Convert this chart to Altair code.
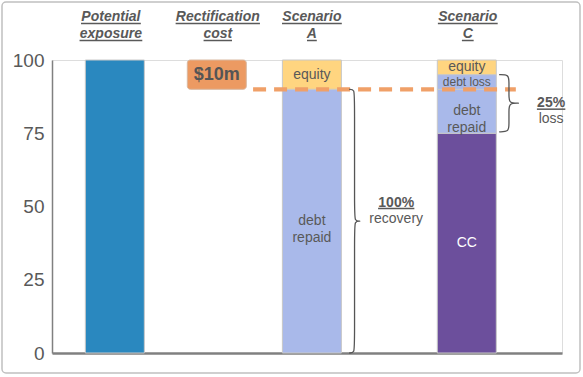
import altair as alt
import pandas as pd

# ---------------- data ----------------
categories = ["Potential exposure", "Rectification cost", "Scenario A", "Scenario C"]
header_top = ["Potential", "Rectification", "Scenario", "Scenario"]
header_bottom = ["exposure", "cost", "A", "C"]

seg_category = ["Potential exposure", "Rectification cost", "Scenario A", "Scenario A",
                "Scenario C", "Scenario C", "Scenario C", "Scenario C"]
seg_name = ["exposure", "cost", "debt repaid", "equity", "cc", "debt repaid", "debt loss", "equity"]
seg_value = [100, 10, 90, 10, 75, 15, 5, 5]
seg_label = ["", "$10m", "debt\nrepaid", "equity", "CC", "debt\nrepaid", "debt loss", "equity"]

y_ticks = [0, 25, 50, 75, 100]

ann_top = ["100%", "25%"]
ann_bottom = ["recovery", "loss"]
brace_span = [(0, 90), (75.5, 95)]   # debt ranges covered by the braces

# ---------------- layout / style ----------------
W, H = 510, 293
slot_x = [59, 163, 260, 418]
BAR_W = 59
header_dx = [-4, 1, 0, 1]
ul_w1 = [61, 86, 61, 61]
ul_w2 = [64, 29, 10, 12]
brace_geom = [(298, 303.5, 309, 3.5), (451, 461, 471, 2.5)]
ann_x = [346, 504]
ann_y_top = [50, 83.9]
ann_y_bot = [44.4, 78.4]
ann_ul_w = [37, 29]
dash_x = (200, 468)

FONT = "Liberation Sans"
TXT = "#595959"
colors = {"exposure": "#2A88BF", "cost": "#EC9A62", "equity": "#FFD580",
          "debt repaid": "#A9B9EA", "debt loss": "#A9B9EA", "cc": "#6C4F9C"}

xs = alt.Scale(domain=[0, W], nice=False, zero=False)
ys = alt.Scale(domain=[0, 100], nice=False)

# ---------------- build tables ----------------
rows = []
cum = {}
exposure_total = seg_value[0]
for c, n, v, l in zip(seg_category, seg_name, seg_value, seg_label):
    if c == "Rectification cost":
        y0 = exposure_total - v
    else:
        y0 = cum.get(c, 0)
    y1 = y0 + v
    cum[c] = y1
    rows.append(dict(cat=c, name=n, y0=y0, y1=y1, ym=(y0 + y1) / 2, label=l,
                     x=slot_x[categories.index(c)], color=colors[n],
                     tcolor="white" if n == "cc" else TXT,
                     tsize=12 if n == "debt loss" else 14))
bars = pd.DataFrame(rows)

threshold = exposure_total - seg_value[1]

base_bar = alt.Chart(bars)
bar_layer = base_bar.mark_bar(size=BAR_W, stroke="#C8C8C8", strokeWidth=1).encode(
    x=alt.X("x:Q", scale=xs, axis=alt.Axis(labels=False, ticks=False, grid=False, title=None,
                                            domainColor="#808080", domainWidth=2.5)),
    y=alt.Y("y0:Q", scale=ys, axis=alt.Axis(values=y_ticks, ticks=False, grid=False, title=None,
                                             labelFontSize=19, labelColor=TXT, labelFont=FONT,
                                             labelPadding=8, domainColor="#808080", domainWidth=1.5)),
    y2="y1:Q",
    color=alt.Color("color:N", scale=None),
).transform_filter("datum.name != 'cost'")

cost_layer = base_bar.mark_bar(size=BAR_W, stroke="#D9B8A0", strokeWidth=1, cornerRadius=3).encode(
    x=alt.X("x:Q", scale=xs), y=alt.Y("y0:Q", scale=ys), y2="y1:Q",
    color=alt.Color("color:N", scale=None),
).transform_filter("datum.name == 'cost'")

label_layer = base_bar.mark_text(font=FONT, baseline="middle", align="center",
                                 lineBreak="\n", lineHeight=17).encode(
    x=alt.X("x:Q", scale=xs), y=alt.Y("ym:Q", scale=ys),
    text="label:N",
    color=alt.Color("tcolor:N", scale=None),
    size=alt.Size("tsize:Q", scale=None),
).transform_filter("datum.label != '' && datum.name != 'cost'")

cost_label = base_bar.mark_text(font=FONT, baseline="middle", align="center",
                                fontSize=18, fontWeight="bold", color="#555555").encode(
    x=alt.X("x:Q", scale=xs), y=alt.Y("ym:Q", scale=ys), text="label:N",
).transform_filter("datum.name == 'cost'")

# dashed threshold line
dash_df = pd.DataFrame([dict(xa=dash_x[0], xb=dash_x[1], y=threshold)])
dash_layer = alt.Chart(dash_df).mark_rule(color="#F0A068", strokeWidth=4.3,
                                          strokeDash=[13, 8]).encode(
    x=alt.X("xa:Q", scale=xs), x2="xb:Q", y=alt.Y("y:Q", scale=ys))

# braces
brows = []
for b, ((lo, hi), (x0, xv, xt, r)) in enumerate(zip(brace_span, brace_geom)):
    ym = (lo + hi) / 2
    pts = [(x0, hi), (xv, hi), (xv, hi - r), (xv, ym + r), (xv, ym), (xt, ym), (xt, ym),
           (xv, ym), (xv, ym - r), (xv, lo + r), (xv, lo), (x0, lo)]
    for i, (px, py) in enumerate(pts):
        brows.append(dict(b=b, i=i, x=px, y=py))
brace_df = pd.DataFrame(brows)
brace_layer = alt.Chart(brace_df).mark_line(interpolate="basis", color="#555555",
                                            strokeWidth=1.3).encode(
    x=alt.X("x:Q", scale=xs), y=alt.Y("y:Q", scale=ys),
    detail="b:N", order="i:Q")

# annotations
ann_df = pd.DataFrame(dict(top=ann_top, bot=ann_bottom, x=ann_x, yt=ann_y_top, yb=ann_y_bot,
                           xa=[a - w / 2 for a, w in zip(ann_x, ann_ul_w)],
                           xb=[a + w / 2 for a, w in zip(ann_x, ann_ul_w)]))
ann_a = alt.Chart(ann_df).mark_text(font=FONT, fontSize=14, fontWeight="bold", color=TXT,
                                    baseline="alphabetic", align="center").encode(
    x=alt.X("x:Q", scale=xs), y=alt.Y("yt:Q", scale=ys), text="top:N")
ann_b = alt.Chart(ann_df).mark_text(font=FONT, fontSize=14, color=TXT,
                                    baseline="alphabetic", align="center").encode(
    x=alt.X("x:Q", scale=xs), y=alt.Y("yb:Q", scale=ys), text="bot:N")
ann_ul = alt.Chart(ann_df).mark_rule(color=TXT, strokeWidth=1.5, yOffset=2).encode(
    x=alt.X("xa:Q", scale=xs), x2="xb:Q", y=alt.Y("yt:Q", scale=ys))

# headers
hx = [s + d for s, d in zip(slot_x, header_dx)]
head_df = pd.DataFrame(dict(t1=header_top, t2=header_bottom, x=hx,
                            a1=[x - w / 2 for x, w in zip(hx, ul_w1)],
                            b1=[x + w / 2 for x, w in zip(hx, ul_w1)],
                            a2=[x - w / 2 for x, w in zip(hx, ul_w2)],
                            b2=[x + w / 2 for x, w in zip(hx, ul_w2)]))
hstyle = dict(font=FONT, fontSize=14, fontWeight="bold", fontStyle="italic", color=TXT,
              baseline="alphabetic", align="center")
h1 = alt.Chart(head_df).mark_text(**hstyle).encode(
    x=alt.X("x:Q", scale=xs), y=alt.value(-39), text="t1:N")
h2 = alt.Chart(head_df).mark_text(**hstyle).encode(
    x=alt.X("x:Q", scale=xs), y=alt.value(-22), text="t2:N")
u1 = alt.Chart(head_df).mark_rule(color=TXT, strokeWidth=1.5).encode(
    x=alt.X("a1:Q", scale=xs), x2="b1:Q", y=alt.value(-36.5))
u2 = alt.Chart(head_df).mark_rule(color=TXT, strokeWidth=1.5).encode(
    x=alt.X("a2:Q", scale=xs), x2="b2:Q", y=alt.value(-19.5))

# frame
frame = alt.Chart(pd.DataFrame([{"k": 1}])).mark_rect(
    fillOpacity=0, stroke="#C0C0C0", strokeWidth=1.5, cornerRadius=4).encode(
    x=alt.value(-50), x2=alt.value(528), y=alt.value(-58), y2=alt.value(313))

chart = alt.layer(
    frame, bar_layer, cost_layer, label_layer, cost_label, dash_layer,
    brace_layer, ann_a, ann_b, ann_ul, h1, h2, u1, u2
).properties(
    width=W, height=H,
    autosize=alt.AutoSizeParams(type="none"),
    padding={"left": 52, "top": 60, "right": 21, "bottom": 24},
).configure_view(stroke=None).configure(background="white")

chart.save("out.html", embed_options={"renderer": "svg", "actions": False})
